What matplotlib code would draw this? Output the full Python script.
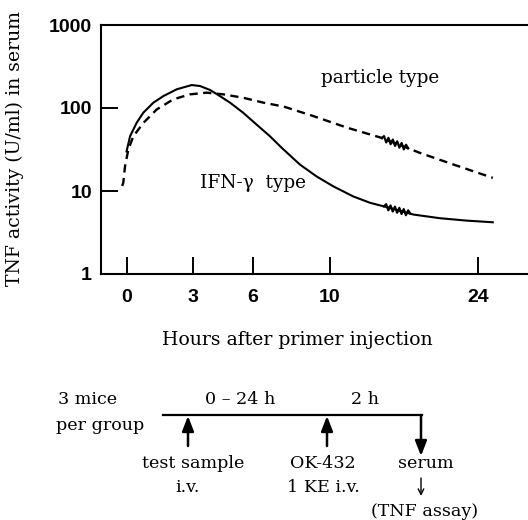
import numpy as np
import matplotlib
matplotlib.use('Agg')
import matplotlib.pyplot as plt

# values: hours after primer injection vs TNF activity (U/ml)
ifn_hours = [-0.02, 0.14, 0.44, 0.74, 1.2, 1.65, 2.26, 2.94, 3.35, 3.85, 4.35, 4.85, 5.5,
             6.19, 6.88, 7.5, 8.44, 9.3, 10.3, 12.2, 13.8, 15.36, 17.9, 20.4, 22.9, 25.4]
ifn_tnf = [30, 45.7, 66.4, 87.7, 116, 139, 168, 189, 184, 165, 139, 116, 88,
           63, 45.7, 33, 20.8, 15, 11.4, 8.6, 7.2, 6.4, 5.2, 4.7, 4.4, 4.2]

particle_hours = [-0.22, -0.17, -0.09, 0.06, 0.29, 0.74, 1.35, 2.1, 2.86, 3.69, 4.52, 5.5,
                  6.54, 7.6, 9.13, 11.6, 14.8, 18.5, 21.7, 25.4]
particle_tnf = [11.5, 12.5, 19.8, 31.6, 45.7, 66, 96, 127, 146, 153, 146, 133,
                116, 104, 80, 58, 44, 28.8, 20.8, 14.4]

x_ticks = [0, 3, 6, 10, 24]
y_ticks = [1, 10, 100, 1000]
y_ticklabels = ['1', '10', '100', '1000']

# broken time axis (hours -> horizontal pixel position)
knot_h = [-10, 0, 3, 6, 10, 24, 40]
knot_p = [-93, 127, 193, 253, 330, 478, 647]


def fwd(h):
    return np.interp(h, knot_h, knot_p)


def inv(p):
    return np.interp(p, knot_p, knot_h)


serif = 'DejaVu Serif'
sans = 'Liberation Sans'

fig = plt.figure(figsize=(5.28, 5.20), dpi=100)
ax = fig.add_axes([101/528, 1 - 274/520, 1 - 101/528, (274 - 25)/520])

ax.plot(ifn_hours, ifn_tnf, color='k', lw=1.5)
ax.plot(particle_hours, particle_tnf, color='k', lw=1.7, dashes=(3.5, 2.3))


# zigzag marks for the axis break
def zigzag(hours, vals, h0, h1, n=13):
    hs = np.linspace(h0, h1, n)
    base = np.interp(hs, hours, np.log10(vals))
    amp = 0.033 * np.array([0 if i in (0, n - 1) else (1 if i % 2 else -1) for i in range(n)])
    ax.plot(hs, 10 ** (base + amp), color='k', lw=1.6)


zigzag(ifn_hours, ifn_tnf, 15.1, 17.6)
zigzag(particle_hours, particle_tnf, 14.9, 17.4)

ax.set_yscale('log')
ax.set_xscale('function', functions=(fwd, inv))
ax.set_xlim(inv(101), inv(528))
ax.set_ylim(1, 1000)
ax.set_yticks(y_ticks)
ax.set_yticklabels(y_ticklabels)
ax.yaxis.set_minor_locator(matplotlib.ticker.NullLocator())
ax.set_xticks(x_ticks)
ax.set_xticklabels([str(t) for t in x_ticks])
ax.xaxis.set_minor_locator(matplotlib.ticker.NullLocator())
ax.tick_params(axis='both', direction='in', length=12.5, width=1.4, labelsize=14)
ax.tick_params(axis='y', pad=6.5)
ax.tick_params(axis='x', pad=11)
for lab in ax.get_xticklabels() + ax.get_yticklabels():
    lab.set_fontfamily(sans)
    lab.set_fontweight('bold')
ax.spines['right'].set_visible(False)
for s in ['left', 'top', 'bottom']:
    ax.spines[s].set_linewidth(1.5)

fig.text(380/528, 1 - 78/520, 'particle type', family=serif, fontsize=13.3, ha='center', va='center')
fig.text(200/528, 1 - 183/520, 'IFN-γ  type', family=serif, fontsize=13.3, ha='left', va='center')
fig.text(15/528, 1 - 149/520, 'TNF activity (U/ml) in serum', family=serif, fontsize=13.6,
         rotation=90, ha='center', va='center')
fig.text(297/528, 1 - 340/520, 'Hours after primer injection', family=serif, fontsize=13.6,
         ha='center', va='center')

# protocol schematic
ov = fig.add_axes([0, 0, 1, 1])
ov.set_xlim(0, 528)
ov.set_ylim(520, 0)
ov.axis('off')
ov.patch.set_alpha(0)

ov.plot([163, 422], [415, 415], color='k', lw=1.6)
head = dict(arrowstyle='-|>,head_length=0.9,head_width=0.35', color='k', lw=1.8,
            shrinkA=0, shrinkB=0)
ov.annotate('', xy=(188, 416), xytext=(188, 446), arrowprops=head)
ov.annotate('', xy=(327, 416), xytext=(327, 446), arrowprops=head)
ov.annotate('', xy=(421, 456), xytext=(421, 415), arrowprops=head)
ov.annotate('', xy=(421, 496), xytext=(421, 478),
            arrowprops=dict(arrowstyle='->,head_length=0.4,head_width=0.2', color='k', lw=1.0,
                            shrinkA=0, shrinkB=0))

kw = dict(family=serif, fontsize=12.6, va='center')
ov.text(58, 400, '3 mice', ha='left', **kw)
ov.text(56, 425, 'per group', ha='left', **kw)
ov.text(240, 400, '0 – 24 h', ha='center', **kw)
ov.text(365, 400, '2 h', ha='center', **kw)
ov.text(193, 463, 'test sample', ha='center', **kw)
ov.text(188, 487, 'i.v.', ha='center', **kw)
ov.text(323, 463, 'OK-432', ha='center', **kw)
ov.text(323, 487, '1 KE i.v.', ha='center', **kw)
ov.text(426, 463, 'serum', ha='center', **kw)
ov.text(425, 512, '(TNF assay)', ha='center', **kw)

fig.savefig('out.png', dpi=100)
